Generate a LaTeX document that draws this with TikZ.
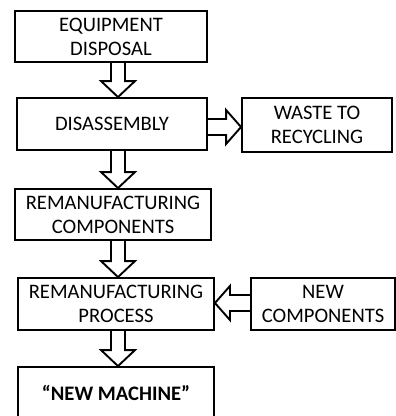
\documentclass[tikz,border=0pt]{standalone}
\usepackage{fontspec}
\setmainfont{Carlito}
\usetikzlibrary{calc}

\tikzset{
  box/.style={draw=black, line width=1.9pt, fill=white, align=center, inner sep=0pt,
              font=\fontsize{20.6}{24}\selectfont},
  blk/.style={draw=black, line width=1.9pt, line join=miter}
}

% hollow block arrow pointing down: start, tip, head offset
\newcommand\varrow[3]{%
  \draw[blk] ($#1+(-7,0)$) -- ($#2+(-7,#3)$) -- ($#2+(-17,#3)$) -- #2
    -- ($#2+(17,#3)$) -- ($#2+(7,#3)$) -- ($#1+(7,0)$);}
% hollow block arrow pointing sideways: start, tip, head offset
\newcommand\harrow[3]{%
  \draw[blk] ($#1+(0,-8)$) -- ($#2+(#3,-8)$) -- ($#2+(#3,-17)$) -- #2
    -- ($#2+(#3,17)$) -- ($#2+(#3,8)$) -- ($#1+(0,8)$);}

\begin{document}
\begin{tikzpicture}[x=1pt, y=-1pt]
  \useasboundingbox (0,0) rectangle (396,416);
  \fill[white] (0,0) rectangle (396,416);
  \clip (0,0) rectangle (396,416);

  \node[box, minimum width=192pt, minimum height=51pt] (b1) at (111,36.5) {EQUIPMENT\\DISPOSAL};
  \node[box, minimum width=190pt, minimum height=52pt] (b2) at (112,124) {DISASSEMBLY};
  \node[box, minimum width=150pt, minimum height=54pt] (b3) at (317,125) {WASTE TO\\RECYCLING};
  \node[box, minimum width=196pt, minimum height=51pt] (b4) at (113,214.5) {REMANUFACTURING\\COMPONENTS};
  \node[box, minimum width=196pt, minimum height=52pt] (b5) at (116,304) {REMANUFACTURING\\PROCESS};
  \node[box, minimum width=144pt, minimum height=52pt] (b6) at (323,304) {NEW\\COMPONENTS};
  \node[box, minimum width=196pt, minimum height=51pt] (b7) at (116,392.5) {\bfseries “NEW MACHINE”};

  \coordinate (ax) at (118,0);
  \coordinate (ay1) at (0,127);
  \coordinate (ay2) at (0,303);

  \varrow{(b1.south -| ax)}{(b2.north -| ax)}{-16}
  \varrow{(b2.south -| ax)}{(b4.north -| ax)}{-16}
  \varrow{(b4.south -| ax)}{(b5.north -| ax)}{-16}
  \varrow{(b5.south -| ax)}{(b7.north -| ax)}{-16}
  \harrow{(b2.east |- ay1)}{(b3.west |- ay1)}{-15}
  \harrow{(b6.west |- ay2)}{(b5.east |- ay2)}{15}
\end{tikzpicture}
\end{document}
